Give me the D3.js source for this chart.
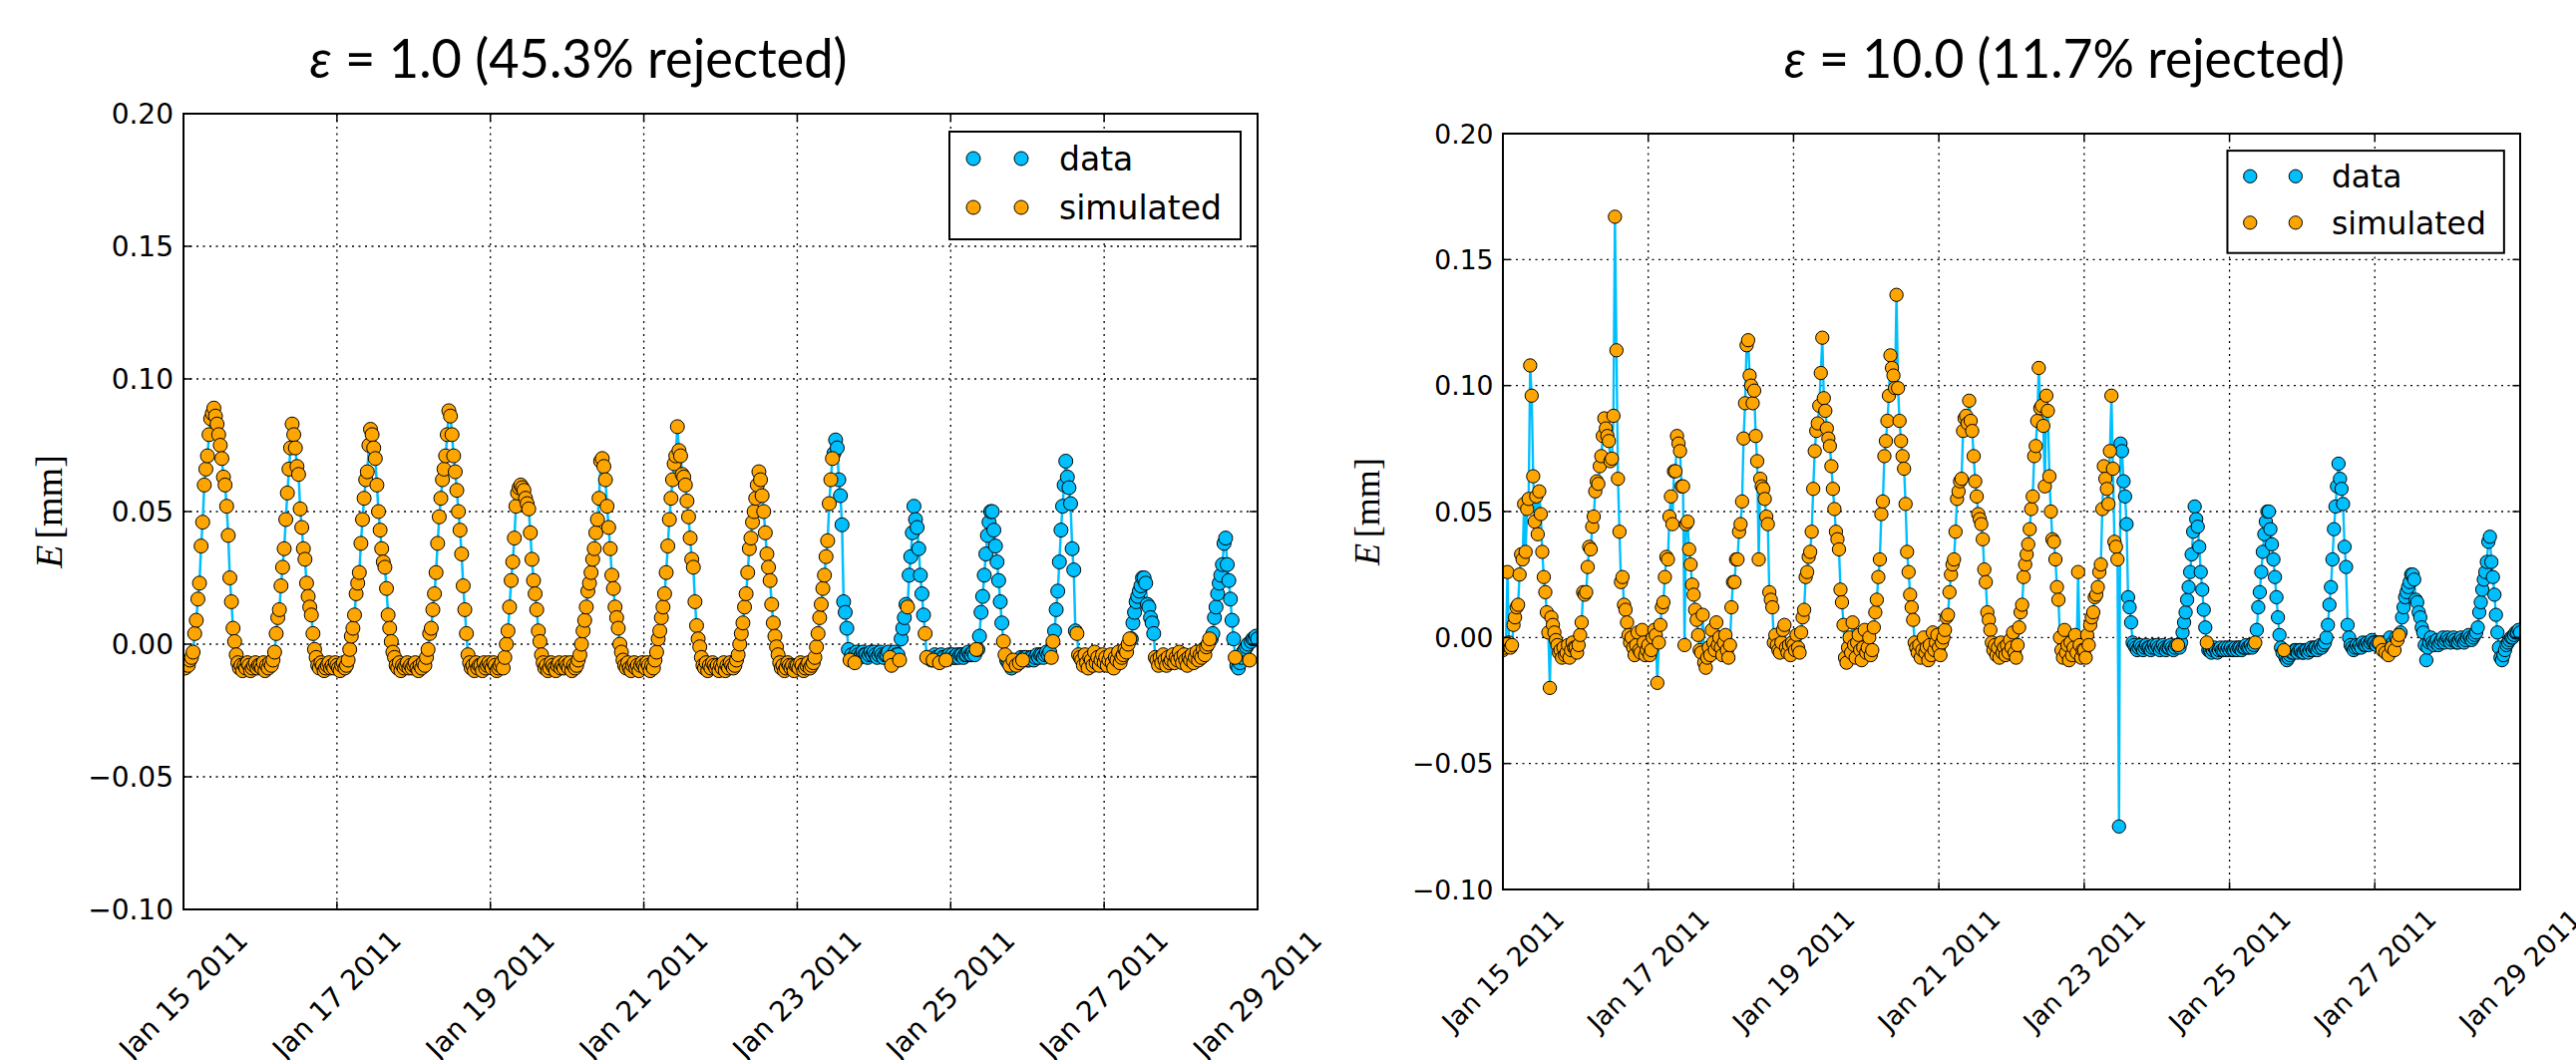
<!DOCTYPE html>
<html>
<head>
<meta charset="utf-8">
<script src="https://cdn.jsdelivr.net/npm/d3@7"></script>
<style>
  body { margin: 0; background: #fff; }
  svg text { font-family: "DejaVu Sans", sans-serif; fill: #000; }
</style>
</head>
<body>
<svg id="chart"></svg>
<script>
var width = 2583;
var height = 1063;

// E values in 1e-3 mm, one every 30 minutes starting 2011-01-15 00:00
// simulated series, eps = 1.0 (Jan 15 00:00 .. Jan 23 11:00)
var leftSim = [
  -8,-9,-7,-8,-6,-5,-3,4,9,17,23,37,46,60,66,71,79,85,87,89,86,83,79,75,70,63,60,52,41,25,16,6,1,-4,-7,-9,-8,-10,-8,-9,-7,-8,-10,-9,-8,-7,-9,-8,
  -8,-9,-7,-10,-8,-9,-7,-8,-6,-3,4,10,13,22,29,36,47,57,66,74,83,79,74,67,64,51,44,36,32,23,18,14,11,4,-2,-5,-8,-9,-7,-8,-10,-9,-8,-7,-9,-8,-9,-7,
  -8,-9,-10,-8,-7,-9,-8,-6,-2,3,6,11,19,23,27,38,47,55,62,65,75,81,79,74,70,60,50,43,36,31,29,21,11,6,1,-3,-5,-8,-9,-7,-10,-8,-9,-8,-7,-9,-8,-9,
  -8,-7,-9,-10,-8,-9,-7,-8,-5,-2,4,6,13,19,27,38,48,55,62,66,71,79,88,86,79,71,65,58,50,43,34,22,13,4,-4,-7,-9,-8,-10,-7,-9,-8,-8,-10,-7,-9,-8,-7,
  -8,-9,-7,-8,-10,-9,-8,-7,-9,-5,0,5,14,24,31,40,52,57,59,60,59,58,55,53,51,42,32,24,19,13,5,1,-4,-7,-9,-8,-10,-9,-7,-8,-9,-10,-8,-7,-9,-8,-9,-7,
  -8,-9,-7,-10,-8,-9,-8,-6,-4,0,5,9,14,20,23,27,32,36,42,47,55,69,70,67,62,52,44,36,26,21,14,10,6,0,-3,-6,-8,-9,-7,-9,-10,-8,-7,-9,-8,-10,-8,-7,
  -8,-9,-7,-8,-10,-8,-9,-6,-3,2,5,10,14,19,27,37,47,55,62,68,71,82,73,71,64,63,60,54,48,40,32,29,16,7,2,-1,-5,-8,-9,-7,-10,-8,-9,-7,-8,-9,-8,-10,
  -8,-9,-7,-10,-8,-9,-7,-8,-9,-8,-6,-4,0,4,8,14,19,27,36,40,46,50,55,60,65,62,56,50,42,34,29,24,15,8,3,-1,-4,-7,-9,-8,-10,-9,-7,-8,-9,-8,-10,-8,
  -8,-9,-7,-8,-10,-9,-8,-7,-9,-8,-7,-5,-1,4,10,15,21,26,33,39,53,62,70
];

// simulated series, eps = 10.0 (Jan 15 00:00 .. Jan 23 11:00)
var rightSim = [
  -5,-4,-3,26,-2,-4,-3,5,8,12,13,25,33,31,53,34,51,55,108,96,64,46,56,41,58,49,34,24,18,10,2,-20,8,5,2,-1,-3,-6,-5,-8,-4,-7,-6,-3,-8,-5,-2,-4,
  -4,-6,-3,1,6,18,17,18,28,36,35,44,48,58,62,61,68,72,80,87,83,80,78,70,71,88,167,114,63,42,22,24,13,11,6,1,-2,0,-4,-7,-3,2,-5,-6,3,-2,-7,-5,
  -3,-7,-5,0,3,1,-18,-2,5,12,14,24,32,31,48,56,45,66,66,80,77,74,60,60,-3,45,46,35,29,21,17,11,7,1,-5,-6,9,-10,-12,-8,-4,-7,3,-2,-5,6,-3,0,
  -4,-7,-2,1,-5,-8,-3,12,22,22,31,31,42,45,54,79,93,116,118,104,100,93,98,80,70,31,63,60,59,55,48,45,18,15,12,-2,1,-3,-5,-6,-2,3,5,-4,-6,-3,-7,-2,
  -3,-5,1,-4,-6,2,8,11,24,26,32,34,42,59,74,82,85,92,105,119,95,90,83,79,76,68,59,51,42,39,35,19,14,5,-8,-10,-4,0,-6,6,-3,-8,-2,1,-5,-9,-4,3,
  -6,-4,0,-7,-5,4,10,15,24,31,49,54,72,78,86,96,112,107,104,99,136,99,86,78,72,67,53,34,26,17,12,7,-2,-4,-6,-3,-8,-5,0,-6,-4,-9,-3,-7,2,-5,-2,1,
  -4,-7,-2,0,3,8,9,18,25,29,31,42,55,58,62,63,82,87,88,85,94,86,82,72,62,56,49,47,45,39,27,22,10,7,3,-2,-5,-3,-7,-4,-8,-2,-6,-4,-7,-3,-6,-1,
  -4,2,-6,-8,-3,4,10,13,24,29,33,37,43,51,56,72,76,86,107,91,92,84,60,96,90,64,50,39,38,31,20,15,0,-5,-8,3,-6,-3,-9,-2,-7,-4,1,-6,26,-3,-8,-5,
  -5,-8,1,-3,5,8,10,16,17,20,26,29,51,68,63,59,53,74,96,67,38,36,31
];

// measured series from Jan 23 11:30 to Jan 29 00:00
var observedStart = [23, 23];
var observed = [
  72,77,74,62,56,45,16,12,6,-2,-3,-4,-5,-4,-3,-4,-5,-4,-3,-4,-4,-5,-4,-3,-4,
  -3,-4,-5,-4,-3,-4,-5,-4,-4,-3,-4,-5,-4,-3,-4,-4,-2,2,6,10,15,20,26,33,42,52,47,44,36,26,19,11,4,-2,-5,-5,-6,-5,-4,-5,-6,-5,-4,-5,-5,-4,-5,-4,
  -5,-4,-5,-5,-4,-5,-4,-4,-5,-4,-4,-3,-4,-4,-3,-4,-3,-2,3,12,18,26,34,41,46,50,50,43,37,31,24,16,8,1,-4,-6,-7,-8,-9,-8,-7,-6,-6,-5,-5,-6,-5,-5,
  -6,-6,-5,-5,-6,-5,-4,-5,-4,-4,-5,-4,-3,-4,-3,-2,0,5,13,20,31,43,52,60,69,63,59,53,36,28,5,0,-3,-4,-5,-4,-3,-4,-3,-4,-2,-3,-3,-2,-3,-2,-1,-2,
  -2,-3,-2,-1,-2,-3,-2,-1,-2,-1,0,-1,-2,-1,0,-1,0,2,8,12,16,18,20,22,25,25,23,15,14,10,8,4,2,-3,-9,-4,-2,0,-2,-3,-2,-1,-3,-2,-1,0,-2,-1,
  0,-1,-2,-1,0,-1,-2,-2,-1,0,-1,-2,-1,0,1,0,-1,0,1,2,4,10,14,19,23,26,30,38,40,30,24,17,9,2,-4,-8,-9,-7,-5,-3,-2,-1,0,0,1,2,2,3,
  2
];

// later simulated values: [day, half-hour slot, values]
var leftSimLate = [
  [23, 33, [-6]], [23, 36, [-7]],
  [24, 10, [-5, -8]], [24, 16, [-6]], [24, 21, [14]], [24, 32, [4, -5]], [24, 37, [-6]], [24, 41, [-7]], [24, 45, [-6]],
  [25, 16, [-2]], [25, 33, [1, -4]], [25, 37, [-8]], [25, 39, [-6]], [25, 41, [-8]], [25, 43, [-7]], [25, 45, [-6]],
  [26, 15, [-5, 1]],
  [26, 31, [4, -4, -5, -6, -8, -4, -7, -9, -5, -6, -8, -3, -7, -5, -8, -6, -4]],
  [27, 0, [-7, -5, -8, -6, -4, -7, -9, -5, -6, -3, -7, -5, -4, -2, -3, 0, 2]],
  [27, 32, [-5, -6, -8, -5, -7, -4, -6, -8, -5, -7, -6, -4, -7, -5, -6, -3]],
  [28, 0, [-5, -7, -4, -6, -8, -5, -6, -4, -7, -5, -3, -6, -4, -5, -2, -4, -1, 0, 2]],
  [28, 34, [-5]], [28, 43, [-6]]
];
var rightSimLate = [
  [24, 14, [-3]], [24, 33, [-2]], [25, 17, [-2]], [25, 36, [-5]],
  [27, 3, [-2]], [27, 5, [-5]], [27, 7, [-6]], [27, 9, [-7]], [27, 11, [-4]], [27, 13, [-5]], [27, 15, [-1, 1]]
];
// measured value that differs in the eps = 10.0 run
var rightDataFix = [[23, 23, -75]];

var yTicks = [-0.10, -0.05, 0.00, 0.05, 0.10, 0.15, 0.20];
var xTickDays = [15, 17, 19, 21, 23, 25, 27, 29];
var epsValues = ["1.0", "10.0"];
var rejected = ["45.3%", "11.7%"];
var legendNames = ["data", "simulated"];

var dataColour = "#00bfff";
var simColour = "#ffa500";

var start = new Date(2011, 0, 15);
function slotIndex(day, slot){ return (day - 15) * 48 + slot; }
function slotTime(i){ return d3.timeMinute.offset(start, 30 * i); }

function buildSeries(sim, late, fixes){
  var pts = [];
  sim.forEach(function(v, i){ pts[i] = {i: i, v: v, sim: true}; });
  var o0 = slotIndex(observedStart[0], observedStart[1]);
  observed.forEach(function(v, k){ pts[o0 + k] = {i: o0 + k, v: v, sim: false}; });
  late.forEach(function(run){
    var i0 = slotIndex(run[0], run[1]);
    run[2].forEach(function(v, k){ pts[i0 + k].v = v; pts[i0 + k].sim = true; });
  });
  fixes.forEach(function(f){
    var i = slotIndex(f[0], f[1]);
    pts[i].v = f[2]; pts[i].sim = false;
  });
  pts.forEach(function(d){ d.t = slotTime(d.i); d.v = d.v / 1000; });
  return pts;
}

var panels = [
  {sim: leftSim, late: leftSimLate, fixes: [], k: 1,
   box: {left: 184, right: 1261, top: 114, bottom: 912},
   titleX: 580, titleW: 539, labelX: 62},
  {sim: rightSim, late: rightSimLate, fixes: rightDataFix, k: 0.95,
   box: {left: 1507, right: 2527, top: 134, bottom: 892},
   titleX: 2070, titleW: 562, labelX: 1383}
];

var svg = d3.select("#chart")
  .attr("width", width)
  .attr("height", height)
  .style("display", "block");

var fmt = d3.format(".2f");
var dateFmt = d3.timeFormat("%b %d %Y");

panels.forEach(function(p, pi){
  var b = p.box, k = p.k;
  var x = d3.scaleTime()
    .domain([start, new Date(2011, 0, 29)])
    .range([b.left, b.right]);
  var y = d3.scaleLinear()
    .domain([-0.10, 0.20])
    .range([b.bottom, b.top]);
  var xTicks = xTickDays.map(function(d){ return new Date(2011, 0, d); });

  var g = svg.append("g");

  // grid
  g.append("g").selectAll("line")
    .data(xTicks.slice(1, -1))
    .enter().append("line")
    .attr("x1", function(d){ return x(d); }).attr("x2", function(d){ return x(d); })
    .attr("y1", b.top).attr("y2", b.bottom)
    .attr("stroke", "#000").attr("stroke-width", 1.3)
    .attr("stroke-dasharray", "2,4.5");
  g.append("g").selectAll("line")
    .data(yTicks.slice(1, -1))
    .enter().append("line")
    .attr("x1", b.left).attr("x2", b.right)
    .attr("y1", function(d){ return y(d); }).attr("y2", function(d){ return y(d); })
    .attr("stroke", "#000").attr("stroke-width", 1.3)
    .attr("stroke-dasharray", "2,4.5");

  // series
  var pts = buildSeries(p.sim, p.late, p.fixes);
  var clipId = "clip" + pi;
  svg.append("clipPath").attr("id", clipId)
    .append("rect")
    .attr("x", b.left).attr("y", b.top)
    .attr("width", b.right - b.left).attr("height", b.bottom - b.top);

  var plot = g.append("g").attr("clip-path", "url(#" + clipId + ")");
  plot.append("path")
    .datum(pts)
    .attr("d", d3.line().x(function(d){ return x(d.t); }).y(function(d){ return y(d.v); }))
    .attr("fill", "none")
    .attr("stroke", dataColour)
    .attr("stroke-width", 2.5 * k);

  plot.append("g").selectAll("circle")
    .data(pts.filter(function(d){ return !d.sim; }))
    .enter().append("circle")
    .attr("cx", function(d){ return x(d.t); })
    .attr("cy", function(d){ return y(d.v); })
    .attr("r", 7 * k)
    .attr("fill", dataColour)
    .attr("stroke", "#000").attr("stroke-width", 1);

  plot.append("g").selectAll("circle")
    .data(pts.filter(function(d){ return d.sim; }))
    .enter().append("circle")
    .attr("cx", function(d){ return x(d.t); })
    .attr("cy", function(d){ return y(d.v); })
    .attr("r", 7 * k)
    .attr("fill", simColour)
    .attr("stroke", "#000").attr("stroke-width", 1);

  // ticks on all four sides, pointing inward
  var tl = 8 * k;
  var tickG = g.append("g").attr("stroke", "#000").attr("stroke-width", 1.5);
  xTicks.forEach(function(d){
    tickG.append("line").attr("x1", x(d)).attr("x2", x(d)).attr("y1", b.bottom).attr("y2", b.bottom - tl);
    tickG.append("line").attr("x1", x(d)).attr("x2", x(d)).attr("y1", b.top).attr("y2", b.top + tl);
  });
  yTicks.forEach(function(d){
    tickG.append("line").attr("x1", b.left).attr("x2", b.left + tl).attr("y1", y(d)).attr("y2", y(d));
    tickG.append("line").attr("x1", b.right).attr("x2", b.right - tl).attr("y1", y(d)).attr("y2", y(d));
  });

  // frame
  g.append("rect")
    .attr("x", b.left).attr("y", b.top)
    .attr("width", b.right - b.left).attr("height", b.bottom - b.top)
    .attr("fill", "none").attr("stroke", "#000").attr("stroke-width", 2);

  // y tick labels
  g.append("g").selectAll("text")
    .data(yTicks)
    .enter().append("text")
    .attr("x", b.left - 10 * k)
    .attr("y", function(d){ return y(d); })
    .attr("text-anchor", "end")
    .attr("dominant-baseline", "central")
    .style("font-size", (28 * k) + "px")
    .text(function(d){ return fmt(d); });

  // x tick labels, rotated 45 degrees, centred under the tick
  var fs = 28 * k;
  xTicks.forEach(function(d){
    var t = g.append("text")
      .attr("text-anchor", "middle")
      .attr("dominant-baseline", "central")
      .style("font-size", fs + "px")
      .text(dateFmt(d));
    var w = t.node().getComputedTextLength();
    var side = (w + fs * 1.1) * Math.SQRT1_2;
    t.attr("transform", "translate(" + x(d) + "," + (b.bottom + 15 * k + side / 2) + ") rotate(-45)");
  });

  // y label
  var yl = g.append("text")
    .attr("transform", "translate(" + p.labelX + "," + ((b.top + b.bottom) / 2) + ") rotate(-90)")
    .attr("text-anchor", "middle")
    .style("font-family", "'Liberation Serif', serif")
    .style("font-size", (38 * k) + "px");
  yl.append("tspan").style("font-style", "italic").text("E");
  yl.append("tspan").attr("dx", 6 * k).text("[mm]");

  // title
  var tt = g.append("text")
    .attr("x", p.titleX)
    .attr("y", 78)
    .attr("text-anchor", "middle")
    .attr("textLength", p.titleW)
    .attr("lengthAdjust", "spacingAndGlyphs")
    .style("font-family", "Lato, sans-serif")
    .style("font-size", "54px");
  tt.append("tspan").style("font-style", "italic").text("\u03b5");
  tt.append("tspan").text(" = " + epsValues[pi] + " (" + rejected[pi] + " rejected)");

  // legend
  var lw = 292 * k, lh = 108 * k;
  var lg = g.append("g")
    .attr("transform", "translate(" + (b.right - 17 * k - lw) + "," + (b.top + 18 * k) + ")");
  lg.append("rect")
    .attr("width", lw).attr("height", lh)
    .attr("fill", "#fff").attr("stroke", "#000").attr("stroke-width", 2);
  var rows = lg.selectAll("g.row")
    .data(legendNames)
    .enter().append("g")
    .attr("transform", function(d, i){ return "translate(0," + ((27 + i * 49) * k) + ")"; });
  [24, 72].forEach(function(cx){
    rows.append("circle")
      .attr("cx", cx * k).attr("cy", 0).attr("r", 7 * k)
      .attr("fill", function(d, i){ return i ? simColour : dataColour; })
      .attr("stroke", "#000").attr("stroke-width", 1);
  });
  rows.append("text")
    .attr("x", 110 * k)
    .attr("y", 12 * k)
    .style("font-size", (33 * k) + "px")
    .text(function(d){ return d; });
});
</script>
</body>
</html>
